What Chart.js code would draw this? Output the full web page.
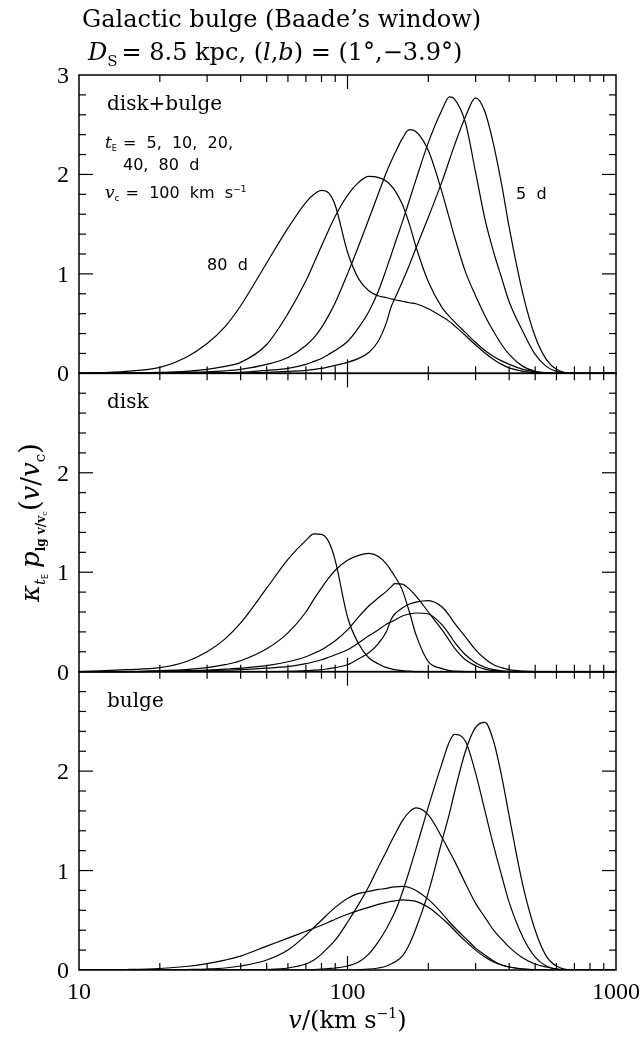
<!DOCTYPE html>
<html>
<head>
<meta charset="utf-8">
<title>Galactic bulge (Baade's window)</title>
<script src="https://cdn.jsdelivr.net/npm/chart.js@4.4.1/dist/chart.umd.min.js"></script>
<style>
  html, body { margin: 0; padding: 0; background: #fff; }
</style>
</head>
<body>
<canvas id="bulgeChart" width="644" height="1038"></canvas>
<script>
// velocity grid in km/s (shared by every curve)
const velocity = [10, 15, 20, 25, 30, 35, 40, 50, 60, 70, 75, 80, 85, 90, 100, 110, 120, 130, 140, 145,
  150, 160, 170, 180, 200, 225, 240, 250, 275, 300, 325, 350, 375, 400, 450, 500, 550, 600, 700, 1000];

// disk+bulge panel, one array per t_E
const both80 = [0, 0.02, 0.06, 0.16, 0.30, 0.47, 0.68, 1.11, 1.46, 1.72, 1.80, 1.84, 1.815, 1.69, 1.22, 0.95, 0.83, 0.78, 0.76, 0.75,
  0.74, 0.725, 0.71, 0.70, 0.65, 0.57, 0.52, 0.48, 0.38, 0.285, 0.205, 0.14, 0.09, 0.055, 0.02, 0.005, 0, 0, 0, 0];
const both40 = [0, 0.005, 0.01, 0.02, 0.04, 0.07, 0.11, 0.29, 0.60, 0.93, 1.11, 1.28, 1.44, 1.58, 1.79, 1.92, 1.98, 1.97, 1.93, 1.89,
  1.84, 1.70, 1.50, 1.27, 0.92, 0.66, 0.57, 0.52, 0.41, 0.31, 0.23, 0.17, 0.125, 0.09, 0.04, 0.015, 0.005, 0, 0, 0];
const both20 = [0, 0, 0.005, 0.01, 0.015, 0.025, 0.04, 0.09, 0.16, 0.28, 0.36, 0.46, 0.58, 0.71, 1.00, 1.28, 1.55, 1.80, 2.03, 2.125,
  2.21, 2.36, 2.45, 2.43, 2.24, 1.82, 1.55, 1.38, 1.02, 0.78, 0.58, 0.42, 0.29, 0.19, 0.07, 0.02, 0.005, 0, 0, 0];
const both10 = [0, 0, 0, 0, 0.005, 0.008, 0.01, 0.03, 0.05, 0.09, 0.12, 0.15, 0.19, 0.23, 0.32, 0.46, 0.62, 0.82, 1.06, 1.18,
  1.30, 1.52, 1.74, 1.95, 2.32, 2.65, 2.78, 2.76, 2.52, 2.02, 1.55, 1.22, 0.96, 0.72, 0.42, 0.19, 0.07, 0.02, 0, 0];
const both5 = [0, 0, 0, 0, 0, 0, 0, 0.01, 0.02, 0.03, 0.04, 0.05, 0.065, 0.08, 0.11, 0.15, 0.21, 0.32, 0.52, 0.66,
  0.75, 0.92, 1.09, 1.26, 1.57, 1.93, 2.15, 2.29, 2.58, 2.77, 2.63, 2.30, 1.90, 1.47, 0.80, 0.37, 0.14, 0.04, 0, 0];

// disk panel
const disk80 = [0, 0.02, 0.04, 0.10, 0.20, 0.33, 0.49, 0.84, 1.13, 1.32, 1.385, 1.38, 1.31, 1.12, 0.55, 0.28, 0.14, 0.08, 0.04, 0.03,
  0.02, 0.01, 0.005, 0, 0, 0, 0, 0, 0, 0, 0, 0, 0, 0, 0, 0, 0, 0, 0, 0];
const disk40 = [0, 0, 0.01, 0.02, 0.04, 0.07, 0.11, 0.23, 0.39, 0.60, 0.73, 0.84, 0.94, 1.02, 1.12, 1.17, 1.19, 1.16, 1.08, 1.02,
  0.96, 0.82, 0.60, 0.37, 0.10, 0.03, 0.01, 0.005, 0, 0, 0, 0, 0, 0, 0, 0, 0, 0, 0, 0];
const disk20 = [0, 0, 0.005, 0.01, 0.015, 0.025, 0.035, 0.06, 0.10, 0.15, 0.185, 0.22, 0.265, 0.31, 0.42, 0.55, 0.66, 0.74, 0.81, 0.85,
  0.885, 0.88, 0.83, 0.76, 0.60, 0.42, 0.31, 0.24, 0.12, 0.06, 0.025, 0.01, 0.003, 0, 0, 0, 0, 0, 0, 0];
const disk10 = [0, 0, 0.003, 0.006, 0.01, 0.015, 0.02, 0.035, 0.05, 0.08, 0.10, 0.12, 0.145, 0.17, 0.22, 0.29, 0.36, 0.42, 0.48, 0.50,
  0.52, 0.56, 0.58, 0.59, 0.58, 0.47, 0.37, 0.30, 0.17, 0.09, 0.045, 0.02, 0.008, 0.003, 0, 0, 0, 0, 0, 0];
const disk5 = [0, 0, 0, 0, 0, 0, 0, 0, 0.003, 0.01, 0.015, 0.02, 0.03, 0.04, 0.07, 0.13, 0.19, 0.28, 0.41, 0.52,
  0.58, 0.64, 0.68, 0.70, 0.715, 0.65, 0.56, 0.49, 0.35, 0.22, 0.13, 0.07, 0.04, 0.02, 0.005, 0, 0, 0, 0, 0];

// bulge panel
const bulge80 = [0, 0.005, 0.015, 0.035, 0.065, 0.10, 0.14, 0.24, 0.32, 0.39, 0.42, 0.45, 0.48, 0.51, 0.56, 0.60, 0.63, 0.66, 0.68, 0.69,
  0.695, 0.705, 0.70, 0.69, 0.63, 0.52, 0.45, 0.40, 0.29, 0.20, 0.13, 0.08, 0.05, 0.03, 0.01, 0.003, 0, 0, 0, 0];
const bulge40 = [0, 0, 0, 0.005, 0.01, 0.02, 0.04, 0.10, 0.20, 0.35, 0.43, 0.50, 0.57, 0.63, 0.72, 0.77, 0.79, 0.81, 0.82, 0.83,
  0.835, 0.84, 0.83, 0.80, 0.71, 0.57, 0.48, 0.43, 0.32, 0.22, 0.15, 0.09, 0.05, 0.03, 0.01, 0, 0, 0, 0, 0];
const bulge20 = [0, 0, 0, 0, 0, 0, 0, 0.005, 0.02, 0.06, 0.10, 0.16, 0.23, 0.30, 0.48, 0.66, 0.84, 1.03, 1.20, 1.285,
  1.36, 1.50, 1.59, 1.63, 1.56, 1.33, 1.19, 1.10, 0.87, 0.67, 0.53, 0.40, 0.31, 0.23, 0.12, 0.06, 0.03, 0.01, 0, 0];
const bulge10 = [0, 0, 0, 0, 0, 0, 0, 0, 0, 0, 0.005, 0.01, 0.015, 0.02, 0.04, 0.08, 0.16, 0.28, 0.42, 0.50,
  0.58, 0.78, 1.00, 1.22, 1.64, 2.08, 2.30, 2.37, 2.30, 1.98, 1.60, 1.25, 0.95, 0.68, 0.33, 0.13, 0.04, 0.01, 0, 0];
const bulge5 = [0, 0, 0, 0, 0, 0, 0, 0, 0, 0, 0, 0, 0, 0, 0, 0.003, 0.008, 0.02, 0.04, 0.06,
  0.08, 0.14, 0.26, 0.42, 0.78, 1.30, 1.58, 1.78, 2.20, 2.44, 2.49, 2.30, 1.95, 1.55, 0.85, 0.40, 0.14, 0.04, 0, 0];

const panels = [
  { axis: "yTop", label: "disk+bulge", curves: [both80, both40, both20, both10, both5] },
  { axis: "yMid", label: "disk", curves: [disk80, disk40, disk20, disk10, disk5] },
  { axis: "yBot", label: "bulge", curves: [bulge80, bulge40, bulge20, bulge10, bulge5] },
];

const xMajor = [10, 100, 1000];
const xMinor = [20, 30, 40, 50, 60, 70, 80, 90, 200, 300, 400, 500, 600, 700, 800, 900];

const SERIF = "'DejaVu Serif', serif";
const SANS = "'DejaVu Sans', sans-serif";
const NUM = "'Liberation Serif', serif";

function drawParts(ctx, parts, x, y, align) {
  let width = 0;
  parts.forEach((p) => {
    ctx.font = p.font;
    width += ctx.measureText(p.text).width + (p.gap || 0);
  });
  let cx = align === "center" ? x - width / 2 : x;
  parts.forEach((p) => {
    ctx.font = p.font;
    ctx.fillText(p.text, cx, y + (p.dy || 0));
    cx += ctx.measureText(p.text).width + (p.gap || 0);
  });
}

function line(ctx, x1, y1, x2, y2) {
  ctx.beginPath();
  ctx.moveTo(x1, y1);
  ctx.lineTo(x2, y2);
  ctx.stroke();
}

const panelPlugin = {
  id: "panelFrames",
  afterDatasetsDraw(chart) {
    const ctx = chart.ctx;
    const x = chart.scales.x;
    const left = x.getPixelForValue(10);
    const right = x.getPixelForValue(1000);

    ctx.save();
    ctx.strokeStyle = "#000";
    ctx.fillStyle = "#000";
    ctx.textBaseline = "alphabetic";

    panels.forEach((p, idx) => {
      const y = chart.scales[p.axis];
      const top = y.getPixelForValue(3);
      const bottom = y.getPixelForValue(0);

      ctx.lineWidth = 1.5;
      ctx.strokeRect(left, top, right - left, bottom - top);

      ctx.lineWidth = 1.2;
      for (let i = 1; i < 15; i++) {
        const py = y.getPixelForValue(i / 5);
        const len = i % 5 === 0 ? 14 : 7;
        line(ctx, left, py, left + len, py);
        line(ctx, right, py, right - len, py);
      }
      xMajor.concat(xMinor).forEach((v) => {
        if (v === 10 || v === 1000) return;
        const px = x.getPixelForValue(v);
        const len = xMajor.includes(v) ? 14 : 7;
        line(ctx, px, bottom, px, bottom - len);
        line(ctx, px, top, px, top + len);
      });

      // y tick labels
      ctx.font = "24px " + NUM;
      ctx.textAlign = "right";
      const labels = idx === 0 ? [0, 1, 2, 3] : [0, 1, 2];
      labels.forEach((v) => {
        ctx.fillText(String(v), left - 10, y.getPixelForValue(v) + 8);
      });

      // panel name
      ctx.textAlign = "left";
      ctx.font = "20px " + SERIF;
      ctx.fillText(p.label, left + 28, top + 35);
    });

    // x tick labels
    const yBot = chart.scales.yBot;
    const base = yBot.getPixelForValue(0);
    ctx.font = "24px " + NUM;
    ctx.textAlign = "center";
    xMajor.forEach((v) => {
      ctx.fillText(String(v), x.getPixelForValue(v), base + 29);
    });

    ctx.textAlign = "left";
    // title
    ctx.font = "24px " + SERIF;
    ctx.fillText("Galactic bulge (Baade\u2019s window)", 82, 27);
    drawParts(ctx, [
      { text: "D", font: "italic 24px " + SERIF },
      { text: "S", font: "15px " + SERIF, dy: 6, gap: 4 },
      { text: "= 8.5 kpc, (", font: "24px " + SERIF },
      { text: "l", font: "italic 24px " + SERIF },
      { text: ",", font: "24px " + SERIF },
      { text: "b", font: "italic 24px " + SERIF },
      { text: ") = (1\u00b0,\u22123.9\u00b0)", font: "24px " + SERIF },
    ], 88, 60, "left");

    // annotation in the top panel
    const yTop = chart.scales.yTop;
    const t0 = yTop.getPixelForValue(3);
    const small = "16px " + SANS;
    drawParts(ctx, [
      { text: "t", font: "italic 17px " + SERIF },
      { text: "E", font: "8px " + SANS, dy: 3, gap: 6 },
      { text: "=  5,  10,  20,", font: small },
    ], left + 26, t0 + 73, "left");
    ctx.font = small;
    ctx.fillText("40,  80  d", left + 44, t0 + 95);
    drawParts(ctx, [
      { text: "v", font: "italic 17px " + SERIF },
      { text: "c", font: "9px " + SANS, dy: 3, gap: 6 },
      { text: "=  100  km  s", font: small },
      { text: "\u22121", font: "9px " + SANS, dy: -6 },
    ], left + 26, t0 + 123, "left");
    ctx.font = "16px " + SANS;
    ctx.fillText("80  d", x.getPixelForValue(30), yTop.getPixelForValue(1.04));
    ctx.fillText("5  d", x.getPixelForValue(410) + 4, yTop.getPixelForValue(1.75));

    // x axis title
    drawParts(ctx, [
      { text: "v", font: "italic 24px " + SERIF },
      { text: "/(km s", font: "24px " + SERIF },
      { text: "\u22121", font: "14px " + SERIF, dy: -10 },
      { text: ")", font: "24px " + SERIF },
    ], (left + right) / 2, base + 58, "center");

    // y axis title (rotated)
    ctx.translate(30, chart.scales.yMid.getPixelForValue(1.5));
    ctx.rotate(-Math.PI / 2);
    drawParts(ctx, [
      { text: "\u03ba", font: "italic 26px " + SERIF },
      { text: "t", font: "italic 15px " + SERIF, dy: 6 },
      { text: "E", font: "8px " + SANS, dy: 9, gap: 6 },
      { text: "p", font: "italic 26px " + SERIF },
      { text: "lg v/v", font: "bold 12px " + SERIF, dy: 6 },
      { text: "c", font: "8px " + SERIF, dy: 8 },
      { text: "(", font: "28px " + SERIF },
      { text: "v", font: "italic 26px " + SERIF },
      { text: "/", font: "26px " + SERIF },
      { text: "v", font: "italic 26px " + SERIF },
      { text: "c", font: "15px " + SERIF, dy: 6 },
      { text: ")", font: "28px " + SERIF },
    ], 0, 9, "center");

    ctx.restore();
  },
};

const datasets = [];
panels.forEach((p) => {
  p.curves.forEach((vals) => {
    datasets.push({
      yAxisID: p.axis,
      data: velocity.map((v, i) => ({ x: v, y: vals[i] })),
      borderColor: "#000",
      borderWidth: 1.2,
      pointRadius: 0,
      fill: false,
      cubicInterpolationMode: "monotone",
    });
  });
});

new Chart(document.getElementById("bulgeChart"), {
  type: "line",
  data: { datasets },
  options: {
    responsive: false,
    animation: false,
    layout: { padding: { left: 79, right: 28, top: 75, bottom: 68 } },
    plugins: { legend: { display: false }, tooltip: { enabled: false } },
    scales: {
      x: { type: "logarithmic", min: 10, max: 1000, display: false },
      // three stacked panels share one plot area: each axis spans 9 units
      yTop: { type: "linear", min: -6, max: 3, display: false },
      yMid: { type: "linear", min: -3, max: 6, display: false },
      yBot: { type: "linear", min: 0, max: 9, display: false },
    },
  },
  plugins: [panelPlugin],
});
</script>
</body>
</html>
